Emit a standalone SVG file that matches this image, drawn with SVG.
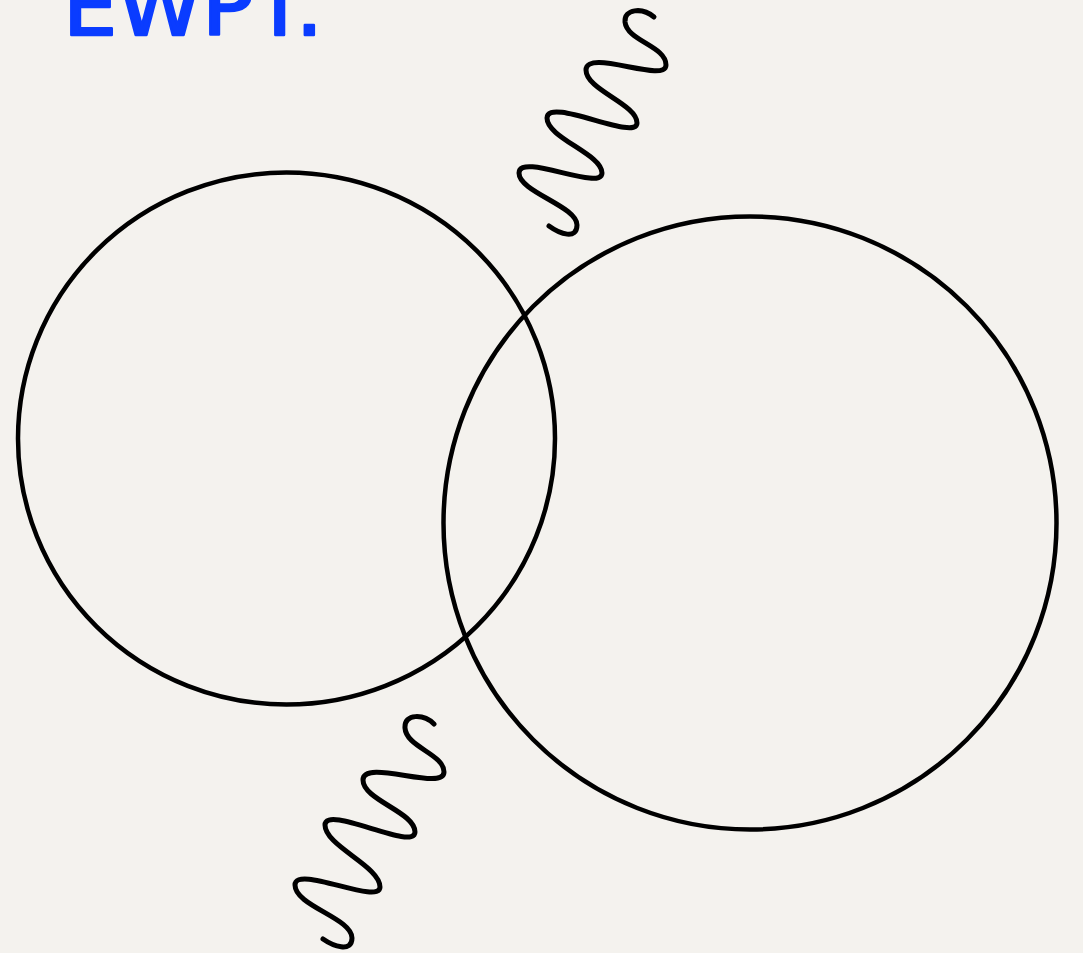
<svg xmlns="http://www.w3.org/2000/svg" width="1083" height="953" viewBox="0 0 1083 953">
<style>
.line{fill:none;stroke:#000;stroke-width:4.5;stroke-linecap:round;stroke-linejoin:round}
.wave{stroke-width:5}
.title{font-family:"DejaVu Sans","Liberation Sans",sans-serif;font-size:80px;fill:#0a3cff;stroke:#0a3cff;stroke-width:2.5;stroke-linejoin:round}
</style>
<rect width="1083" height="953" fill="#f4f2ee"/>
<g id="title"><text class="title" x="63" y="35" textLength="260" lengthAdjust="spacingAndGlyphs">EWPT.</text></g>
<g id="circle-left"><ellipse class="line" cx="286.5" cy="438.5" rx="268.5" ry="266"/></g>
<g id="circle-right"><ellipse class="line" cx="750" cy="523" rx="306.5" ry="306.5"/></g>
<g id="connectors">
<path id="wave-top" class="line wave" d="M654,17 C642,7 624,9 625,22 C627,41 666,46 666,65 C666,84 586,48 586,70 C586,90 637,104 637,123 C637,142 547,96 547,118 C547,138 602,154 602,173 C602,192 519,152 519,173 C519,192 577,206 577,225 C577,240 560,234 549,226"/>
<path id="wave-bottom" class="line wave" d="M434,724 C424,714 404,713 405,728 C406,747 444,754 444,772 C444,792 363,758 363,780 C363,800 415,812 415,832 C415,852 325,804 325,825 C325,846 380,866 380,887 C380,906 295,864 295,885 C295,906 352,918 352,938 C352,953 333,946 323,939"/>
</g>
</svg>
